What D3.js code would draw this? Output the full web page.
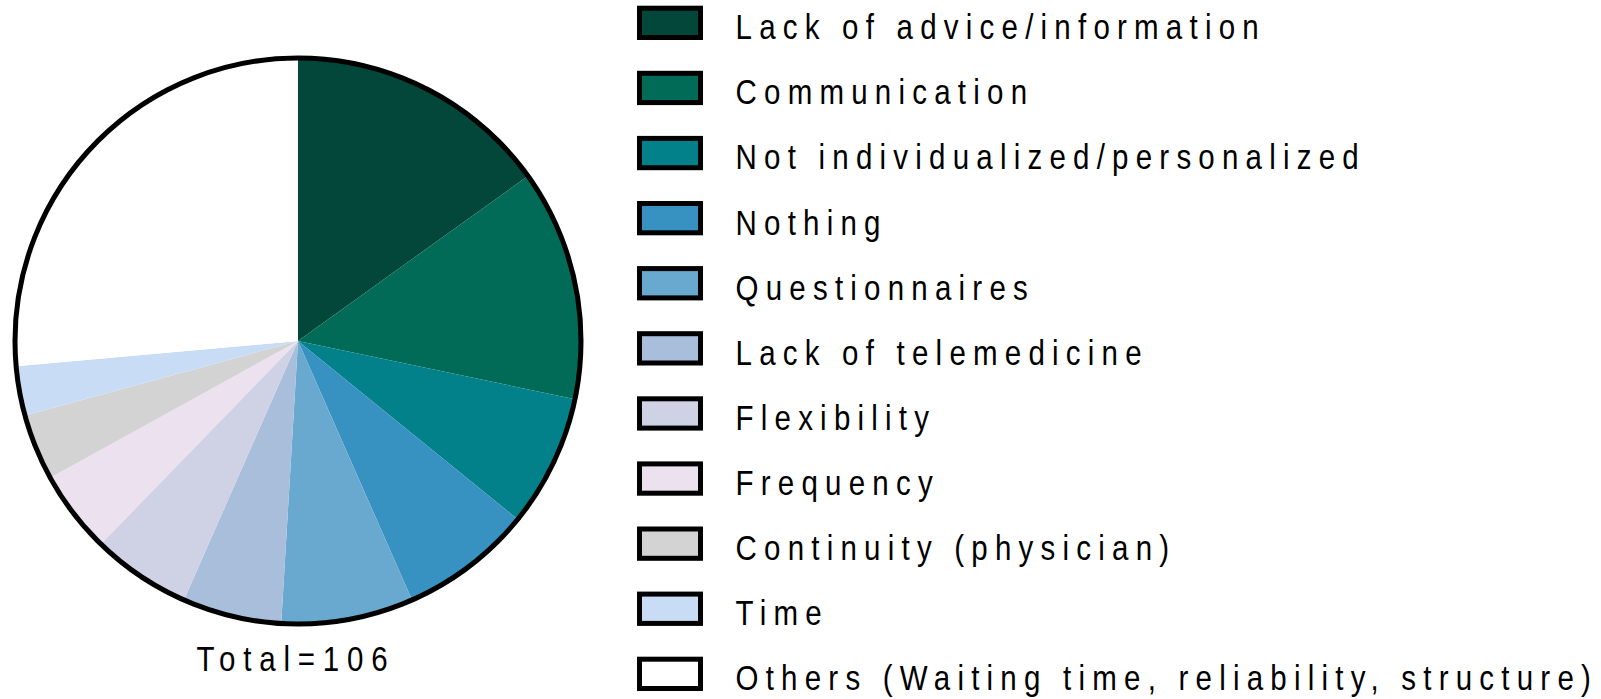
<!DOCTYPE html>
<html>
<head>
<meta charset="utf-8">
<script src="https://cdn.jsdelivr.net/npm/d3@7"></script>
<style>
  body { margin: 0; background: #fff; }
  text { font-family: "Liberation Sans", Arial, sans-serif; }
</style>
</head>
<body>
<div id="chart-area"></div>
<script>
const categories = [
	"Lack of advice/information",
	"Communication",
	"Not individualized/personalized",
	"Nothing",
	"Questionnaires",
	"Lack of telemedicine",
	"Flexibility",
	"Frequency",
	"Continuity (physician)",
	"Time",
	"Others (Waiting time, reliability, structure)"
];
const counts = [16, 14, 8, 8, 8, 6, 6, 5, 4, 3, 28];
const colors = ["#03473a", "#026b58", "#03818a", "#3792c1", "#69a9cf", "#a8bedb",
				"#cfd1e5", "#ebe1ef", "#d3d3d3", "#c8ddf5", "#ffffff"];
const totalLabel = "Total=" + d3.sum(counts);

const width = 1601;
const height = 699;
const cx = 298, cy = 341, radius = 283;
// the original font is a narrow sans with wide tracking
const squeeze = 0.82;

const svg = d3.select('#chart-area')
			.append('svg')
			.attr('width', width)
			.attr('height', height);

const data = categories.map((c, i) => ({name: c, value: counts[i], color: colors[i]}));

const pie = d3.pie()
			.value(d => d.value)
			.sort(null);

const arc = d3.arc()
			.innerRadius(0)
			.outerRadius(radius);

const g = svg.append('g')
			.attr('transform', `translate(${cx},${cy})`);

g.selectAll('path')
	.data(pie(data))
	.enter()
	.append('path')
	.attr('d', arc)
	.attr('fill', d => d.data.color);

g.append('circle')
	.attr('r', radius)
	.attr('fill', 'none')
	.attr('stroke', '#000')
	.attr('stroke-width', 5);

svg.append('g')
	.attr('transform', `translate(${cx - 2},671) scale(${squeeze},1)`)
	.append('text')
	.text(totalLabel)
	.attr('text-anchor', 'middle')
	.attr('font-size', '36px')
	.attr('letter-spacing', '9.5px')
	.attr('fill', '#000');

// legend
const step = 65.1;
const legend = svg.append('g')
			.attr('transform', 'translate(639.5,8.2)');

const rows = legend.selectAll('g')
	.data(data)
	.enter()
	.append('g')
	.attr('transform', (d, i) => `translate(0,${i * step})`);

rows.append('rect')
	.attr('width', 61)
	.attr('height', 29.3)
	.attr('fill', d => d.color)
	.attr('stroke', '#000')
	.attr('stroke-width', 5);

rows.append('g')
	.attr('transform', `translate(96,31) scale(${squeeze},1)`)
	.append('text')
	.text(d => d.name)
	.attr('font-size', '36px')
	.attr('letter-spacing', '8.8px')
	.attr('fill', '#000');
</script>
</body>
</html>
